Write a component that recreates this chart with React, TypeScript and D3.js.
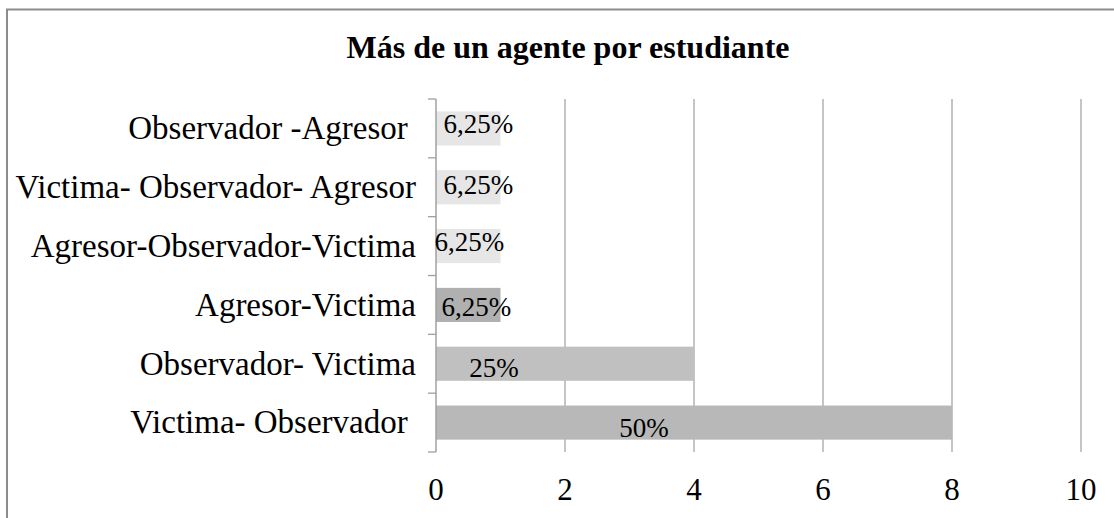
import { useEffect, useRef } from "react";
import * as d3 from "d3";

// categories top -> bottom, as in the picture
const categories = [
  "Observador -Agresor ",
  "Victima- Observador- Agresor",
  "Agresor-Observador-Victima",
  "Agresor-Victima",
  "Observador- Victima",
  "Victima- Observador ",
];
const values = [1, 1, 1, 1, 4, 8];
const labels = ["6,25%", "6,25%", "6,25%", "6,25%", "25%", "50%"];
const barColors = ["#e6e6e6", "#e6e6e6", "#e6e6e6", "#b0b0b0", "#c0c0c0", "#b8b8b8"];
// data label offsets from the bar centre (as placed in the original)
const labelDx = [10, 10, 1, 8, -71, -50];
const labelDy = [-5, -3, -5, 1.5, 3.5, 5];
const xTicks = [0, 2, 4, 6, 8, 10];

const W = 1114;
const H = 518;
const FONT = "'Liberation Serif', 'Times New Roman', serif";

function App() {
  const ref = useRef<SVGSVGElement>(null);

  useEffect(() => {
    const svg = d3.select(ref.current);
    svg.selectAll("*").remove();

    const left = 436;
    const right = 1081;
    const top = 99;
    const bottom = 452;

    const x = d3.scaleLinear().domain([0, 10]).range([left, right]);
    const y = d3
      .scaleBand()
      .domain(categories)
      .range([top, bottom])
      .paddingInner(0.42)
      .paddingOuter(0.21);

    // outer frame
    svg
      .append("rect")
      .attr("x", 7)
      .attr("y", 9.5)
      .attr("width", W + 10)
      .attr("height", H + 10)
      .attr("fill", "#fff")
      .attr("stroke", "#8c8c8c")
      .attr("stroke-width", 2);

    // title
    svg
      .append("text")
      .attr("x", 568)
      .attr("y", 58)
      .attr("text-anchor", "middle")
      .style("font-family", FONT)
      .style("font-weight", "bold")
      .style("font-size", "32px")
      .text("Más de un agente por estudiante");

    // vertical gridlines
    svg
      .append("g")
      .selectAll("line")
      .data(xTicks.slice(1))
      .join("line")
      .attr("x1", (d) => x(d))
      .attr("x2", (d) => x(d))
      .attr("y1", top)
      .attr("y2", bottom)
      .attr("stroke", "#a6a6a6")
      .attr("stroke-width", 1.3);

    // bars
    svg
      .append("g")
      .selectAll("rect")
      .data(values)
      .join("rect")
      .attr("x", x(0))
      .attr("y", (_, i) => y(categories[i])!)
      .attr("width", (d) => x(d) - x(0))
      .attr("height", y.bandwidth())
      .attr("fill", (_, i) => barColors[i]);

    // category axis line with ticks
    const ax = svg.append("g");
    ax.append("line")
      .attr("x1", left)
      .attr("x2", left)
      .attr("y1", top)
      .attr("y2", bottom)
      .attr("stroke", "#a0a0a0")
      .attr("stroke-width", 1.5);
    const step = (bottom - top) / categories.length;
    ax.selectAll("line.tick")
      .data(d3.range(categories.length + 1))
      .join("line")
      .attr("class", "tick")
      .attr("x1", left - 8)
      .attr("x2", left)
      .attr("y1", (d) => top + d * step)
      .attr("y2", (d) => top + d * step)
      .attr("stroke", "#a0a0a0")
      .attr("stroke-width", 1.3);

    // category labels
    svg
      .append("g")
      .selectAll("text")
      .data(categories)
      .join("text")
      .attr("x", left - 20)
      .attr("y", (d) => y(d)! + y.bandwidth() / 2)
      .attr("dy", "0.33em")
      .attr("text-anchor", "end")
      .attr("xml:space", "preserve")
      .style("white-space", "pre")
      .style("font-family", FONT)
      .style("font-size", "33px")
      .text((d) => d);

    // x tick labels
    svg
      .append("g")
      .selectAll("text")
      .data(xTicks)
      .join("text")
      .attr("x", (d) => x(d))
      .attr("y", 500)
      .attr("text-anchor", "middle")
      .style("font-family", FONT)
      .style("font-size", "31px")
      .text((d) => d);

    // data labels
    svg
      .append("g")
      .selectAll("text")
      .data(values)
      .join("text")
      .attr("x", (d, i) => (x(0) + x(d)) / 2 + labelDx[i])
      .attr("y", (_, i) => y(categories[i])! + y.bandwidth() / 2 + labelDy[i])
      .attr("dy", "0.35em")
      .attr("text-anchor", "middle")
      .style("font-family", FONT)
      .style("font-size", "27px")
      .text((_, i) => labels[i]);
  }, []);

  return (
    <svg
      ref={ref}
      width={W}
      height={H}
      style={{ position: "fixed", left: 0, top: 0, display: "block", background: "#fff" }}
    />
  );
}

export default App;
